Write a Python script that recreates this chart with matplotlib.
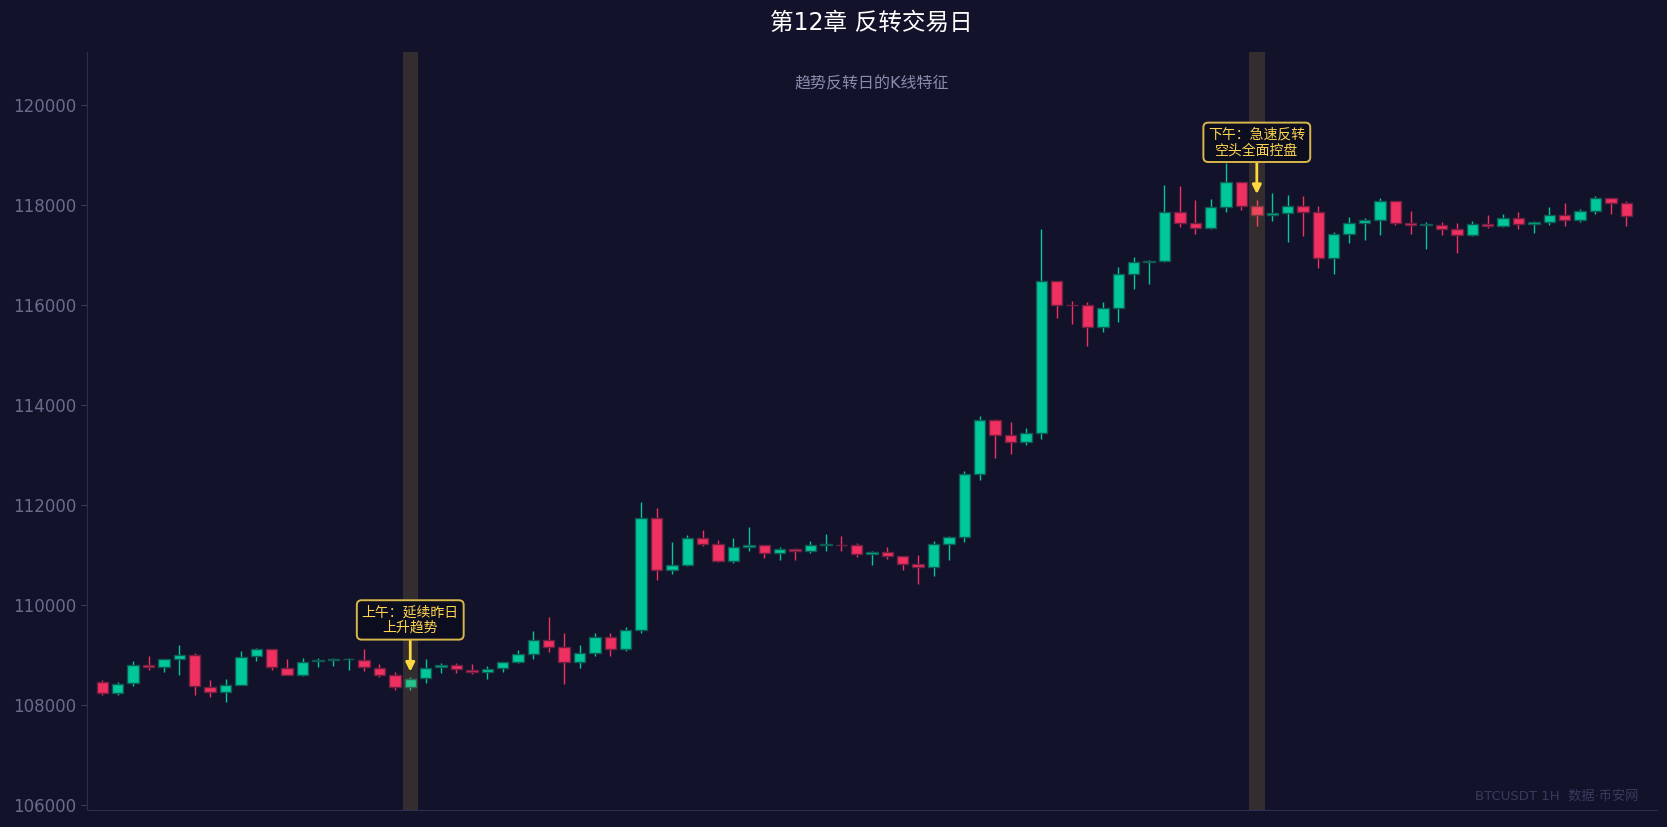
import numpy as np
import matplotlib
matplotlib.use('Agg')
import matplotlib.pyplot as plt

plt.rcParams['font.family'] = ['DejaVu Sans', 'Noto Sans CJK SC']

# Hourly BTCUSDT candles
opens = [108464, 108231, 108431, 108804, 108751, 108924, 109004, 108364, 108251, 108404,
         108971, 109124, 108744, 108604, 108877, 108890, 108915, 108904, 108744, 108604,
         108351, 108531, 108751, 108804, 108704, 108651, 108731, 108864, 109024, 109304,
         109164, 108864, 109044, 109364, 109124, 109504, 111744, 110704, 110804, 111344,
         111224, 110884, 111164, 111204, 111044, 111124, 111084, 111204, 111206, 111204,
         111024, 111064, 110984, 110824, 110764, 111224, 111364, 112624, 113704, 113404,
         113264, 113444, 116484, 116006, 116004, 115564, 115944, 116624, 116864, 116884,
         117851, 117644, 117544, 117964, 118464, 117984, 117804, 117844, 117984, 117864,
         116931, 117424, 117644, 117704, 118084, 117644, 117604, 117604, 117524, 117404,
         117624, 117584, 117744, 117624, 117664, 117804, 117704, 117884, 118144, 118044]
highs = [108504, 108464, 108884, 108984, 108924, 109204, 109044, 108504, 108524, 109084,
         109144, 109124, 108924, 108944, 108944, 108944, 108944, 109124, 108824, 108664,
         108551, 108924, 108844, 108844, 108824, 108771, 108864, 109104, 109484, 109764,
         109444, 109204, 109444, 109444, 109564, 112064, 111944, 111264, 111404, 111504,
         111304, 111344, 111564, 111204, 111164, 111144, 111284, 111424, 111384, 111244,
         111084, 111164, 110984, 111004, 111284, 111384, 112684, 113784, 113724, 113664,
         113544, 117524, 116484, 116084, 116064, 116064, 116764, 116964, 116904, 118404,
         118384, 118104, 118124, 118844, 118464, 118104, 118244, 118204, 118184, 117984,
         117464, 117764, 117744, 118144, 118084, 117884, 117664, 117664, 117644, 117684,
         117804, 117824, 117864, 117684, 117964, 118044, 117924, 118184, 118144, 118084]
lows = [108204, 108191, 108371, 108704, 108651, 108591, 108191, 108151, 108051, 108391,
        108871, 108691, 108591, 108571, 108751, 108771, 108704, 108671, 108551, 108291,
        108291, 108431, 108631, 108631, 108611, 108511, 108664, 108844, 108924, 109064,
        108424, 108744, 108984, 108984, 109084, 109444, 110504, 110624, 110784, 111184,
        110864, 110844, 111084, 110944, 110904, 110904, 111044, 111084, 111084, 110964,
        110804, 110924, 110704, 110424, 110584, 110904, 111264, 112504, 112944, 113024,
        113204, 113324, 115744, 115624, 115184, 115464, 115664, 116324, 116424, 116864,
        117564, 117424, 117524, 117864, 117904, 117584, 117684, 117251, 117371, 116731,
        116611, 117231, 117291, 117404, 117604, 117424, 117124, 117404, 117044, 117384,
        117544, 117564, 117524, 117444, 117604, 117584, 117664, 117824, 117824, 117584]
closes = [108231, 108424, 108804, 108751, 108924, 109004, 108371, 108251, 108404, 108964,
          109124, 108751, 108604, 108864, 108897, 108917, 108917, 108751, 108604, 108351,
          108524, 108744, 108804, 108711, 108651, 108724, 108864, 109024, 109304, 109164,
          108864, 109044, 109364, 109124, 109504, 111744, 110704, 110804, 111344, 111224,
          110884, 111164, 111204, 111044, 111124, 111084, 111204, 111224, 111204, 111024,
          111064, 110984, 110824, 110764, 111224, 111364, 112624, 113704, 113404, 113264,
          113444, 116484, 116004, 116004, 115564, 115944, 116624, 116864, 116884, 117851,
          117644, 117544, 117964, 118464, 117984, 117804, 117844, 117984, 117864, 116931,
          117424, 117644, 117704, 118084, 117644, 117604, 117624, 117524, 117404, 117624,
          117584, 117744, 117624, 117664, 117804, 117704, 117884, 118144, 118044, 117784]

# highlighted candles and their notes
marked_idx = [20, 75]
marked_notes = ['上午：延续昨日\n上升趋势', '下午：急速反转\n空头全面控盘']

title = '第12章 反转交易日'
subtitle = '趋势反转日的K线特征'
watermark = 'BTCUSDT 1H  数据·币安网'
y_ticks = [106000, 108000, 110000, 112000, 114000, 116000, 118000, 120000]

BG = '#12122a'
UP = '#00c89a'
DOWN = '#f03060'
UP_EDGE = '#0f5a52'
DOWN_EDGE = '#6e2040'


def draw_candles(ax):
    o = np.array(opens)
    h = np.array(highs)
    l = np.array(lows)
    c = np.array(closes)
    x = np.arange(len(o))
    up = c >= o

    ax.vlines(x[up], l[up], h[up], color=UP, linewidth=1.0, zorder=2)
    ax.vlines(x[~up], l[~up], h[~up], color=DOWN, linewidth=1.0, zorder=2)

    bottom = np.minimum(o, c)
    height = np.abs(c - o)
    ax.bar(x[up], height[up], bottom=bottom[up], width=0.74, color=UP,
           edgecolor=UP_EDGE, linewidth=1.0, zorder=3)
    ax.bar(x[~up], height[~up], bottom=bottom[~up], width=0.74, color=DOWN,
           edgecolor=DOWN_EDGE, linewidth=1.0, zorder=3)


def main():
    fig = plt.figure(figsize=(16.67, 8.27), dpi=100, facecolor=BG)
    ax = fig.add_axes([0.0522, 0.0206, 0.9418, 0.9165])
    ax.set_facecolor(BG)

    draw_candles(ax)

    # highlight bands drawn over the candles
    for idx, note in zip(marked_idx, marked_notes):
        ax.axvspan(idx - 0.5, idx + 0.5, color='#e0b850', alpha=0.17,
                   linewidth=0, zorder=4)
        ax.annotate(note, xy=(idx, highs[idx] + 60), xytext=(idx, highs[idx] + 1150),
                    ha='center', va='center', fontsize=10, color='#ffd54f',
                    linespacing=1.15,
                    bbox=dict(boxstyle='round,pad=0.35', fc='#0d0d20', ec='#d8b84a', lw=1.4),
                    arrowprops=dict(arrowstyle='-|>', color='#ffd740', lw=2.0,
                                    mutation_scale=13, shrinkA=0, shrinkB=2),
                    zorder=6)

    ax.set_xlim(-1, len(opens) + 1)
    ax.set_ylim(105900, 121060)
    ax.set_xticks([])
    ax.set_yticks(y_ticks)
    ax.tick_params(axis='y', colors='#3a3a5c', labelcolor='#6b6b8c',
                   labelsize=12, length=4)
    for side in ['top', 'right']:
        ax.spines[side].set_visible(False)
    for side in ['left', 'bottom']:
        ax.spines[side].set_color('#2e2e52')

    fig.text(0.523, 1 - 23 / 827, title, ha='center', va='center',
             fontsize=17, color='#ffffff')
    ax.text(0.5, 0.958, subtitle, transform=ax.transAxes, ha='center',
            va='center', fontsize=11.5, color='#8a8aac')
    ax.text(0.988, 0.018, watermark, transform=ax.transAxes, ha='right',
            va='center', fontsize=9.5, color='#3a3a5c')

    fig.savefig('out.png', dpi=100, facecolor=BG)
    plt.close(fig)


if __name__ == '__main__':
    main()
